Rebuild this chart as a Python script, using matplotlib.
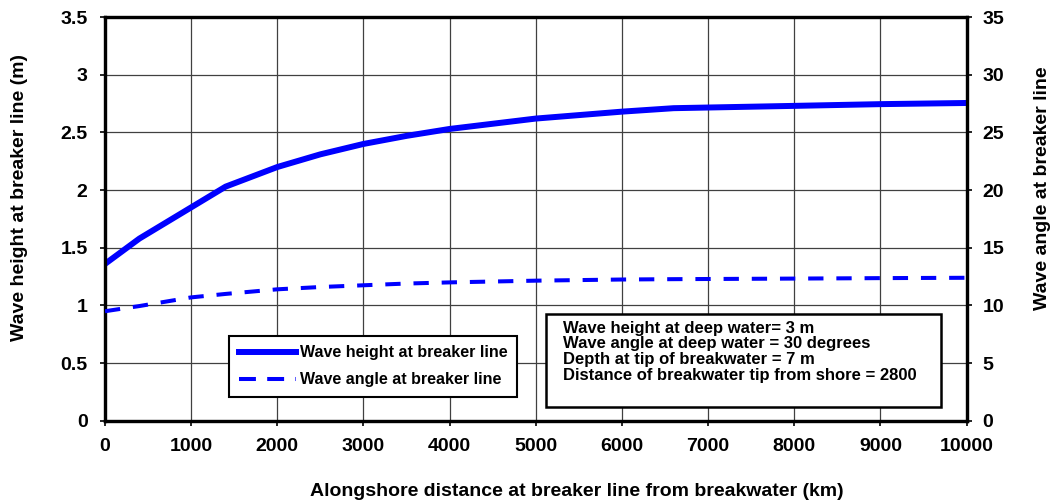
import matplotlib
matplotlib.use("Agg")
import matplotlib.pyplot as plt
from matplotlib.lines import Line2D
from matplotlib.patches import Rectangle

plt.rcParams['font.family'] = ['Liberation Sans', 'DejaVu Sans']
plt.rcParams['font.weight'] = 'bold'

# Alongshore distance (km) and breaker-line results
distance = [0, 400, 1000, 1400, 2000, 2500, 3000, 3500, 4000, 5000, 6000, 6600, 8000, 9000, 10000]
wave_height = [1.36, 1.58, 1.85, 2.03, 2.20, 2.31, 2.40, 2.47, 2.53, 2.62, 2.68, 2.71, 2.73, 2.745, 2.755]
wave_angle = [9.5, 9.95, 10.7, 11.0, 11.4, 11.6, 11.75, 11.9, 12.0, 12.15, 12.25, 12.28, 12.33, 12.37, 12.4]

x_ticks = list(range(0, 10001, 1000))
left_ticks = [0, 0.5, 1, 1.5, 2, 2.5, 3, 3.5]
right_ticks = [0, 5, 10, 15, 20, 25, 30, 35]

series_names = ["Wave height at breaker line", "Wave angle at breaker line"]
info_lines = [
    "Wave height at deep water= 3 m",
    "Wave angle at deep water = 30 degrees",
    "Depth at tip of breakwater = 7 m",
    "Distance of breakwater tip from shore = 2800",
]

fig = plt.figure(figsize=(10.56, 5.01), dpi=100)
ax = fig.add_axes([0.0994, 0.160, 0.816, 0.806])
ax2 = ax.twinx()

blue = '#0000ff'
solid_lw = 4.3
dash_lw = 2.9
dash_pat = (3.8, 3.2)
ax.plot(distance, wave_height, color=blue, lw=solid_lw, solid_capstyle='butt', zorder=3)
ax2.plot(distance, wave_angle, color=blue, lw=dash_lw, dashes=dash_pat, zorder=3)

ax.set_xlim(0, 10000)
ax.set_ylim(0, 3.5)
ax2.set_ylim(0, 35)
ax.set_xticks(x_ticks)
ax.set_yticks(left_ticks)
ax2.set_yticks(right_ticks)
ax.set_yticklabels([f"{v:g}" for v in left_ticks])
ax.grid(True, color='#404040', lw=0.9)
ax.set_axisbelow(True)

for a in (ax, ax2):
    for s in a.spines.values():
        s.set_linewidth(2.3)
    a.tick_params(labelsize=14, width=1.2, length=3.5, direction='out')
ax.tick_params(axis='x', pad=9)
ax.tick_params(axis='y', pad=9)
ax2.tick_params(axis='y', pad=8)

ax.set_xlabel("Alongshore distance at breaker line from breakwater (km)",
              fontsize=14, fontweight='bold')
ax.xaxis.set_label_coords(0.548, -0.155)
ax.set_ylabel("Wave height at breaker line (m)", fontsize=14, fontweight='bold')
ax.yaxis.set_label_coords(-0.0894, 0.554)
ax2.set_ylabel("Wave angle at breaker line", fontsize=14, fontweight='bold', rotation=90)
ax2.yaxis.set_label_coords(1.078, 0.577)

handles = [Line2D([], [], color=blue, lw=solid_lw),
           Line2D([], [], color=blue, lw=dash_lw, dashes=(4.2, 2.8))]
leg = ax2.legend(handles, series_names,
                 loc='lower left', bbox_to_anchor=(0.144, 0.059), borderaxespad=0,
                 fontsize=11.5, frameon=True, fancybox=False, edgecolor='black',
                 framealpha=1, handlelength=3.6, handletextpad=0.25,
                 borderpad=0.6, labelspacing=0.75)
leg.get_frame().set_linewidth(1.5)
leg.set_zorder(5)

# Input-parameter box
ax2.add_patch(Rectangle((0.512, 0.035), 0.458, 0.230, transform=ax.transAxes,
                        facecolor='white', edgecolor='black', lw=1.8, zorder=6))
ax2.text(0.532, 0.2475, "\n".join(info_lines), transform=ax.transAxes,
         fontsize=12, fontweight='bold', va='top', ha='left', linespacing=1.05,
         zorder=7)

fig.savefig("out.png", dpi=100)
